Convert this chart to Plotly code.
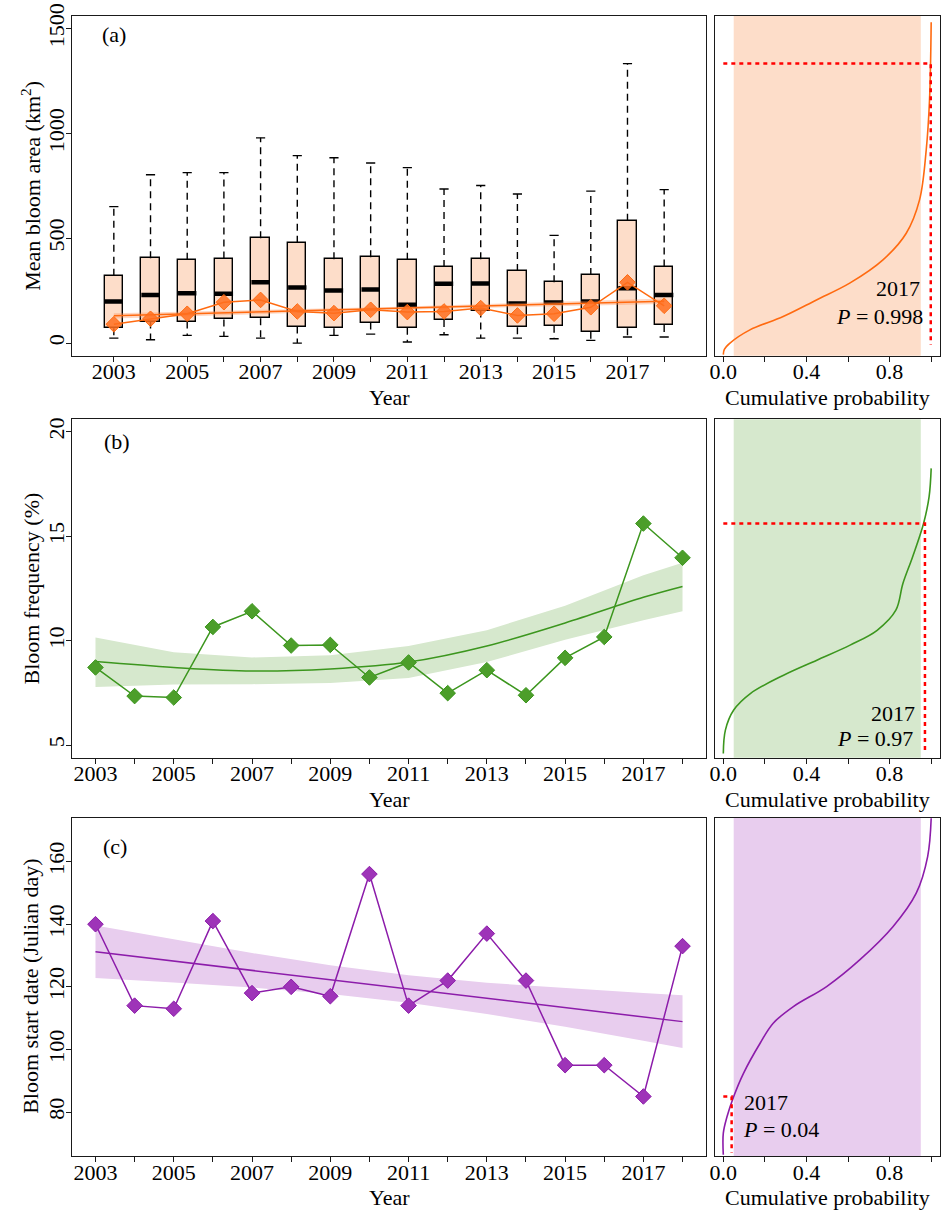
import plotly.graph_objects as go

# ---------------- data ----------------
years = list(range(2003, 2019))
label_years = [y for y in years if y % 2 == 1]

# (a) bloom area box statistics (km^2)
area_lo = [24, 16, 37, 32, 24, 0, 37, 43, 5, 40, 24, 24, 21, 13, 29, 29]
area_q1 = [71, 103, 103, 113, 119, 79, 71, 98, 73, 110, 155, 76, 83, 54, 71, 87]
area_med = [198, 230, 238, 235, 290, 265, 251, 256, 183, 283, 284, 189, 194, 198, 262, 230]
area_q3 = [321, 405, 398, 403, 500, 479, 400, 410, 397, 363, 400, 344, 290, 325, 584, 365]
area_hi = [651, 803, 813, 813, 979, 894, 884, 859, 837, 735, 752, 711, 514, 725, 1333, 732]
area_mean = [90, 116, 140, 195, 206, 151, 143, 159, 148, 151, 167, 132, 140, 171, 290, 178]
area_fit_x = [2003, 2010.5, 2018]
area_fit = [130, 165, 200]
area_fit_up = [143, 172, 213]
area_fit_lo = [117, 158, 187]
area_cdf_p = [0.0, 0.005, 0.032, 0.128, 0.288, 0.448, 0.608, 0.768, 0.88, 0.944, 0.976, 0.992, 1.0]
area_cdf_v = [-55, -30, 0, 63, 127, 206, 286, 397, 524, 683, 920, 1159, 1530]
area_2017, area_p = 1333, 0.998

# (b) bloom frequency (%)
freq = [8.72, 7.35, 7.28, 10.66, 11.41, 9.77, 9.80, 8.24, 8.96, 7.49, 8.59, 7.39, 9.18, 10.18, 15.61, 13.97]
freq_fit_x = [2003, 2005, 2007, 2009, 2011, 2013, 2015, 2017, 2018]
freq_fit = [9.0, 8.72, 8.55, 8.65, 8.98, 9.75, 10.85, 12.08, 12.6]
freq_fit_up = [10.16, 9.45, 9.2, 9.3, 9.75, 10.5, 11.68, 13.14, 13.73]
freq_fit_lo = [7.79, 7.9, 7.92, 7.98, 8.22, 8.98, 10.05, 10.98, 11.41]
freq_cdf_p = [0.0, 0.01, 0.05, 0.13, 0.29, 0.45, 0.61, 0.74, 0.83, 0.864, 0.91, 0.963, 0.99, 1.0]
freq_cdf_v = [4.6, 5.72, 6.68, 7.47, 8.35, 9.07, 9.79, 10.5, 11.46, 12.74, 14.0, 15.6, 16.9, 18.25]
freq_2017, freq_p = 15.61, 0.97

# (c) bloom start date (Julian day)
start = [140, 114, 113, 141, 118, 120, 117, 156, 114, 122, 137, 122, 95, 95, 85, 133]
start_fit_x = [2003, 2005, 2007, 2009, 2011, 2013, 2015, 2017, 2018]
start_fit = [131.2, 128.2, 125.3, 122.3, 119.3, 116.3, 113.4, 110.4, 108.9]
start_fit_up = [139.6, 135.1, 130.8, 126.9, 123.7, 121.3, 119.6, 118.0, 117.3]
start_fit_lo = [122.8, 121.4, 119.8, 117.7, 114.9, 111.3, 107.3, 102.8, 100.5]
start_cdf_p = [0.0, 0.0, 0.018, 0.05, 0.097, 0.177, 0.24, 0.337, 0.497, 0.656, 0.816, 0.928, 0.983, 1.0]
start_cdf_v = [66.4, 73.3, 78.6, 85, 92.4, 102, 108.4, 113.7, 120.1, 128.6, 139.2, 149.9, 161.6, 173.8]
start_2017, start_p = 85, 0.04

# cumulative probability axis ticks
prob_labels = [0.0, 0.4, 0.8]
prob_minor = [0.2, 0.6, 1.0]

# ---------------- styling ----------------
W, H = 941, 1211
FONT = "Liberation Serif, Times New Roman, DejaVu Serif, serif"
FS = 22
ORANGE, ORANGE_FILL, ORANGE_BAND = "#FF6A10", "#FDDDC9", "rgba(255,140,80,0.35)"
GREEN, GREEN_MK, GREEN_FILL = "#3C961E", "#4C9E2A", "#D6E8CD"
PURPLE, PURPLE_MK, PURPLE_FILL = "#8C1CAA", "#9E34B8", "#E8CDEE"
RED = "#FF0000"
MK = 12


def xp(a):
    return a / W


def yp(a):
    return 1 - a / H


def xd(a, b):
    return [xp(a), xp(b)]


def yd(top, bottom):
    return [yp(bottom), yp(top)]


fig = go.Figure()

# ---------- panel (a) boxplots ----------
half_box, half_cap = 0.25, 0.125
fig.add_trace(go.Bar(
    x=years, y=[q3 - q1 for q1, q3 in zip(area_q1, area_q3)], base=area_q1,
    width=0.5, marker=dict(color=ORANGE_FILL, line=dict(color="black", width=1.4)),
    xaxis="x", yaxis="y", showlegend=False, hoverinfo="skip"))

wx, wy, cx, cy, mx, my = [], [], [], [], [], []
for yr, lo, q1, md, q3, hi in zip(years, area_lo, area_q1, area_med, area_q3, area_hi):
    wx += [yr, yr, None, yr, yr, None]
    wy += [q3, hi, None, q1, lo, None]
    cx += [yr - half_cap, yr + half_cap, None, yr - half_cap, yr + half_cap, None]
    cy += [hi, hi, None, lo, lo, None]
    mx += [yr - half_box, yr + half_box, None]
    my += [md, md, None]
fig.add_trace(go.Scatter(x=wx, y=wy, mode="lines", line=dict(color="black", width=1.4, dash="7px,5px"),
                         xaxis="x", yaxis="y", showlegend=False, hoverinfo="skip"))
fig.add_trace(go.Scatter(x=cx, y=cy, mode="lines", line=dict(color="black", width=1.4),
                         xaxis="x", yaxis="y", showlegend=False, hoverinfo="skip"))
fig.add_trace(go.Scatter(x=mx, y=my, mode="lines", line=dict(color="black", width=4.5),
                         xaxis="x", yaxis="y", showlegend=False, hoverinfo="skip"))
fig.add_trace(go.Scatter(x=area_fit_x + area_fit_x[::-1], y=area_fit_up + area_fit_lo[::-1],
                         mode="lines", fill="toself", fillcolor=ORANGE_BAND, line=dict(width=0),
                         xaxis="x", yaxis="y", showlegend=False, hoverinfo="skip"))
fig.add_trace(go.Scatter(x=area_fit_x, y=area_fit, mode="lines", line=dict(color=ORANGE, width=1.5),
                         xaxis="x", yaxis="y", showlegend=False))
fig.add_trace(go.Scatter(x=years, y=area_mean, mode="lines+markers",
                         line=dict(color=ORANGE, width=1.5),
                         marker=dict(symbol="diamond", size=MK, color="rgba(255,110,30,0.85)",
                                     line=dict(color=ORANGE, width=1)),
                         xaxis="x", yaxis="y", showlegend=False))

# ---------- panel (b) ----------
fig.add_trace(go.Scatter(x=freq_fit_x + freq_fit_x[::-1], y=freq_fit_up + freq_fit_lo[::-1],
                         mode="lines", fill="toself", fillcolor=GREEN_FILL, line=dict(width=0),
                         xaxis="x3", yaxis="y3", showlegend=False, hoverinfo="skip"))
fig.add_trace(go.Scatter(x=freq_fit_x, y=freq_fit, mode="lines", line=dict(color=GREEN, width=1.5, shape="spline"),
                         xaxis="x3", yaxis="y3", showlegend=False))
fig.add_trace(go.Scatter(x=years, y=freq, mode="lines+markers", line=dict(color=GREEN, width=1.5),
                         marker=dict(symbol="diamond", size=MK, color=GREEN_MK, line=dict(color=GREEN, width=1)),
                         xaxis="x3", yaxis="y3", showlegend=False))

# ---------- panel (c) ----------
fig.add_trace(go.Scatter(x=start_fit_x + start_fit_x[::-1], y=start_fit_up + start_fit_lo[::-1],
                         mode="lines", fill="toself", fillcolor=PURPLE_FILL, line=dict(width=0),
                         xaxis="x5", yaxis="y5", showlegend=False, hoverinfo="skip"))
fig.add_trace(go.Scatter(x=start_fit_x, y=start_fit, mode="lines", line=dict(color=PURPLE, width=1.5),
                         xaxis="x5", yaxis="y5", showlegend=False))
fig.add_trace(go.Scatter(x=years, y=start, mode="lines+markers", line=dict(color=PURPLE, width=1.5),
                         marker=dict(symbol="diamond", size=MK, color=PURPLE_MK, line=dict(color=PURPLE, width=1)),
                         xaxis="x5", yaxis="y5", showlegend=False))


# ---------- right-hand cumulative panels ----------
def cdf_panel(xa, ya, p, v, color, fill, val2017, p2017, vbottom):
    fig.add_shape(type="rect", xref=xa, yref=ya + " domain", x0=0.05, x1=0.95, y0=0, y1=1,
                  fillcolor=fill, line=dict(width=0), layer="below")
    fig.add_trace(go.Scatter(x=p, y=v, mode="lines", line=dict(color=color, width=1.6, shape="spline"),
                             xaxis=xa, yaxis=ya, showlegend=False))
    fig.add_trace(go.Scatter(x=[0, p2017, p2017], y=[val2017, val2017, vbottom], mode="lines",
                             line=dict(color=RED, width=2.5, dash="4px,4px"),
                             xaxis=xa, yaxis=ya, showlegend=False, hoverinfo="skip"))


cdf_panel("x2", "y2", area_cdf_p, area_cdf_v, ORANGE, ORANGE_FILL, area_2017, area_p, -8)
cdf_panel("x4", "y4", freq_cdf_p, freq_cdf_v, GREEN, GREEN_FILL, freq_2017, freq_p, 4.6)
cdf_panel("x6", "y6", start_cdf_p, start_cdf_v, PURPLE, PURPLE_FILL, start_2017, start_p, 67)

# ---------- axes ----------
tfont = dict(family=FONT, size=FS, color="black")
base_ax = dict(showline=True, linecolor="#1a1a1a", linewidth=1.4, mirror=True, ticks="outside",
               ticklen=5, tickwidth=1.2, tickcolor="#1a1a1a", showgrid=False, zeroline=False,
               tickfont=tfont, automargin=False, ticklabeloverflow="allow")
minor_base = dict(ticks="outside", ticklen=5, tickwidth=1.2, tickcolor="#1a1a1a", showgrid=False,
                  tickmode="array")

rows = [(16, 355.7), (419.3, 757.7), (817.7, 1156)]
y_ranges = [[-60, 1560], [4.4, 20.6], [66, 174]]
y_ticks = [[0, 500, 1000, 1500], [5, 10, 15, 20], [80, 100, 120, 140, 160]]
y_titles = ["Mean bloom area (km<sup>2</sup>)", "Bloom frequency (%)", "Bloom start date (Julian day)"]
x_ranges = [[2001.86, 2019.14], [2002.4, 2018.6], [2002.4, 2018.6]]
xtitle_y = [397, 799, 1197]

layout_axes = {}
annots = []
for i, ((top, bot), yr, yt, ytl, xr, ty) in enumerate(zip(rows, y_ranges, y_ticks, y_titles, x_ranges, xtitle_y)):
    nl, nr = 2 * i + 1, 2 * i + 2
    sl = "" if nl == 1 else str(nl)
    sr = str(nr)
    layout_axes["xaxis" + sl] = dict(base_ax, domain=xd(72, 706), anchor="y" + sl, range=xr,
                                     tickvals=label_years, ticklabelstandoff=-9,
                                     minor=dict(minor_base, tickvals=years))
    layout_axes["yaxis" + sl] = dict(base_ax, domain=yd(top, bot), anchor="x" + sl, range=yr,
                                     tickvals=yt, tickangle=-90, ticklabelstandoff=-7)
    layout_axes["xaxis" + sr] = dict(base_ax, domain=xd(715, 939.5), anchor="y" + sr, range=[-0.04, 1.04],
                                     tickvals=prob_labels, tickformat=".1f", ticklabelstandoff=-9,
                                     minor=dict(minor_base, tickvals=prob_minor))
    layout_axes["yaxis" + sr] = dict(base_ax, domain=yd(top, bot), anchor="x" + sr, range=yr,
                                     ticks="", showticklabels=False)
    annots.append(dict(text="Year", xref="paper", yref="paper", x=xp(389), y=yp(ty),
                       showarrow=False, xanchor="center", yanchor="middle", font=tfont))
    annots.append(dict(text="Cumulative probability", xref="paper", yref="paper", x=xp(827), y=yp(ty),
                       showarrow=False, xanchor="center", yanchor="middle", font=tfont))
    annots.append(dict(text=ytl, xref="paper", yref="paper", x=xp(31), y=yp((top + bot) / 2),
                       textangle=-90, showarrow=False, xanchor="center", yanchor="middle", font=tfont))

for lab, xa, x, y in [("(a)", "x", 0.066, 0.947), ("(b)", "x3", 0.071, 0.934), ("(c)", "x5", 0.068, 0.914)]:
    annots.append(dict(text=lab, xref=xa + " domain", yref=xa.replace("x", "y") + " domain", x=x, y=y,
                       showarrow=False, xanchor="center", yanchor="middle", font=tfont))

for txt, xa, x, y, xan in [
    ("2017", "x2", 0.92, 0.199, "right"), ("<i>P</i> = 0.998", "x2", 0.935, 0.114, "right"),
    ("2017", "x4", 0.898, 0.132, "right"), ("<i>P</i> = 0.97", "x4", 0.891, 0.058, "right"),
    ("2017", "x6", 0.119, 0.157, "left"), ("<i>P</i> = 0.04", "x6", 0.116, 0.077, "left"),
]:
    annots.append(dict(text=txt, xref=xa + " domain", yref=xa.replace("x", "y") + " domain", x=x, y=y,
                       showarrow=False, xanchor=xan, yanchor="middle", font=tfont))

fig.update_layout(
    width=W, height=H, margin=dict(l=0, r=0, t=0, b=0),
    paper_bgcolor="white", plot_bgcolor="white",
    font=dict(family=FONT, size=FS, color="black"),
    showlegend=False, annotations=annots, bargap=0, **layout_axes)

# remove the default page margin so the 941x1211 figure fills the window exactly
fig.write_html("out.html", config={"displayModeBar": False},
               post_script="document.body.style.margin='0';")
